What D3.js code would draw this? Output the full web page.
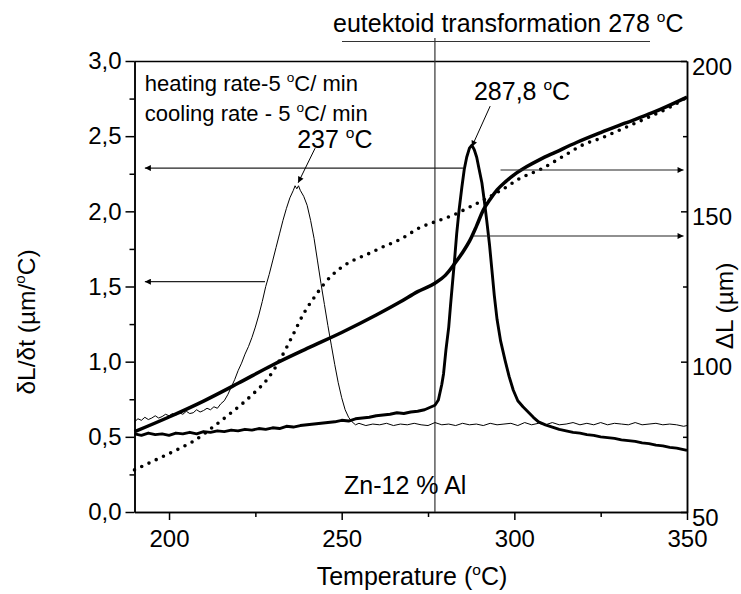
<!DOCTYPE html>
<html>
<head>
<meta charset="utf-8">
<script src="https://cdn.jsdelivr.net/npm/d3@7"></script>
<style>
  body { margin: 0; background: #fff; }
  svg { display: block; font-family: "Liberation Sans", Arial, Helvetica, sans-serif; }
</style>
</head>
<body>
<script>
const WIDTH = 741, HEIGHT = 594;
const MARGIN = {top: 61, right: 54, bottom: 82, left: 134.5};
const TICK_FONT = 24;
const EUTECTOID = 277;

// temperature (°C) -> dL/dt (µm/°C), left axis
const heatRate = [
    [190,0.52],[192,0.51],[194,0.525],[196,0.515],[198,0.52],[200,0.51],[202,0.525],[204,0.52],
    [206,0.53],[208,0.52],[210,0.535],[212,0.53],[214,0.54],[216,0.535],[218,0.545],[220,0.54],
    [222,0.55],[224,0.545],[226,0.555],[228,0.55],[230,0.56],[232,0.555],[234,0.57],[236,0.565],
    [238,0.575],[240,0.58],[242,0.585],[244,0.59],[246,0.595],[248,0.6],[250,0.61],[252,0.605],
    [254,0.62],[256,0.625],[258,0.63],[260,0.64],[262,0.645],[264,0.65],[266,0.66],[268,0.655],
    [270,0.665],[272,0.67],[274,0.68],[276,0.7],[277,0.71],[278,0.745],[279,0.85],[279.5,0.92],
    [280.2,1.08],[281,1.23],[281.5,1.37],[282,1.5],[282.7,1.68],[283.3,1.85],[284,2.01],[284.8,2.16],
    [285.5,2.28],[286.2,2.36],[287,2.42],[287.7,2.44],[288.4,2.41],[289.1,2.36],[289.8,2.28],[290.6,2.19],
    [291.3,2.07],[292,1.94],[292.8,1.78],[293.5,1.61],[294.2,1.44],[295,1.28],[296,1.14],[297.3,1.01],
    [298.5,0.9],[299.7,0.81],[301,0.74],[302.5,0.7],[304,0.665],[305.5,0.63],[307,0.6],[309,0.58],
    [311,0.565],[313,0.55],[315,0.54],[317,0.53],[319,0.525],[321,0.515],[323,0.51],[325,0.5],
    [327,0.495],[329,0.49],[331,0.48],[333,0.475],[335,0.47],[337,0.46],[339,0.455],[341,0.445],
    [343,0.44],[345,0.43],[347,0.425],[349,0.415],[350,0.41]
];
const coolRate = [
    [190,0.6],[191,0.62],[192,0.61],[193,0.63],[194,0.615],[195,0.625],[196,0.64],[197,0.625],
    [198,0.635],[199,0.65],[200,0.64],[201,0.655],[202,0.645],[203,0.66],[204,0.65],[205,0.67],
    [206,0.655],[207,0.66],[208,0.68],[209,0.665],[210,0.675],[211,0.69],[212,0.68],[213,0.7],
    [214,0.69],[215,0.72],[216,0.74],[217,0.78],[218,0.83],[219,0.88],[220,0.94],[221,0.99],
    [222,1.05],[223,1.1],[224,1.16],[225,1.23],[226,1.31],[227,1.4],[228,1.5],[229,1.58],
    [230,1.67],[231,1.76],[232,1.85],[233,1.94],[234,2.02],[235,2.09],[236,2.14],[236.5,2.17],
    [237,2.15],[237.5,2.17],[238,2.14],[239,2.1],[240,2.04],[241,1.94],[242,1.82],[243,1.67],
    [244,1.52],[245,1.38],[246,1.24],[247,1.11],[248,0.98],[249,0.86],[250,0.76],[251,0.68],
    [252,0.63],[253,0.6],[254,0.58],[255,0.59],[257,0.575],[259,0.585],[261,0.58],[263,0.59],
    [265,0.575],[267,0.585],[269,0.58],[271,0.59],[273,0.58],[275,0.575],[277,0.595],[279,0.58],
    [281,0.585],[283,0.575],[285,0.59],[287,0.58],[289,0.585],[291,0.575],[293,0.59],[295,0.58],
    [297,0.585],[299,0.59],[301,0.575],[303,0.595],[305,0.58],[307,0.59],[309,0.58],[311,0.595],
    [313,0.58],[315,0.585],[317,0.595],[319,0.58],[321,0.59],[323,0.58],[325,0.595],[327,0.58],
    [329,0.59],[331,0.585],[333,0.58],[335,0.595],[337,0.58],[339,0.585],[341,0.59],[343,0.58],
    [345,0.585],[347,0.58],[349,0.57],[350,0.575]
];

// temperature (°C) -> dL (µm), right axis
const heatExpansion = [
    [190,76.7],[200,81.6],[210,86.9],[220,92.8],[230,98.9],[240,104.4],[250,109.7],[260,115.5],
    [267,119.9],[272,123.3],[277,126.1],[280,128.7],[282.5,132.3],[285,136.3],[287.2,140.5],[289,145],
    [291,150.4],[293,154],[295,157.1],[297.5,159.9],[300,162.2],[303.5,164.8],[307.5,167.3],[312,169.7],
    [318,172.9],[325,176.2],[332,179.3],[340,182.8],[350,188]
];
const coolExpansion = [
    [190,64],[197,67.8],[203,71.1],[207,73.5],[213,78.5],[218,83],[221.5,86.3],[225,90],
    [228.3,93.9],[232,100.4],[235.5,108],[239,116],[242,121.3],[245,126],[249.5,131],[253,133.5],
    [257,135.5],[262,138.2],[267,140.7],[272.7,144.6],[277,146.5],[282.4,148.8],[287,151.4],[292,154.3],
    [297,157.6],[301.7,161],[307.5,163.9],[314,168.2],[320,172.2],[325,174.3],[332,177.8],[339.3,181.5],
    [345,184.6],[350,188]
];

const xTicks = [200, 250, 300, 350];
const xMinorTicks = [225, 275, 325];
const leftTicks = [0, 0.5, 1, 1.5, 2, 2.5, 3];
const leftMinorTicks = [0.25, 0.75, 1.25, 1.75, 2.25, 2.75];
const rightTicks = [50, 100, 150, 200];
const rightMinorTicks = [75, 125, 175];

// arrows in data units of the left axis: [fromT, fromY, toT, toY]
const axisArrows = [
    [285.2, 2.288, 193, 2.288],
    [296, 2.275, 349, 2.275],
    [227.8, 1.532, 193, 1.532],
    [288.1, 1.836, 349, 1.836]
];
const peakArrows = [
    [242.3, 2.42, 237.4, 2.19],
    [293.0, 2.70, 287.7, 2.43]
];

const comma = d3.formatLocale({decimal: ',', thousands: '.', grouping: [3], currency: ['', '']}).format('.1f');

const svg = d3.select('body').append('svg')
    .attr('width', WIDTH)
    .attr('height', HEIGHT);

const x = d3.scaleLinear().domain([190, 350]).range([MARGIN.left, WIDTH - MARGIN.right]);
const yLeft = d3.scaleLinear().domain([0, 3]).range([HEIGHT - MARGIN.bottom, MARGIN.top]);
const yRight = d3.scaleLinear().domain([50, 200]).range([HEIGHT - MARGIN.bottom, MARGIN.top]);

svg.append('defs').append('marker')
    .attr('id', 'head')
    .attr('viewBox', '0 0 10 10')
    .attr('refX', 10).attr('refY', 5)
    .attr('markerUnits', 'userSpaceOnUse')
    .attr('markerWidth', 9).attr('markerHeight', 6)
    .attr('orient', 'auto')
    .append('path').attr('d', 'M0,0L10,5L0,10z').attr('fill', '#000');

function degree(text, before, after, size){
    text.append('tspan').text(before);
    text.append('tspan').attr('font-size', size * 0.62).attr('dy', -size * 0.42).text('o');
    text.append('tspan').attr('dy', size * 0.42).text(after);
    return text;
}

function styleAxis(g){
    g.attr('font-size', TICK_FONT).attr('font-family', null);
    g.select('.domain').attr('stroke-width', 1.5);
    g.selectAll('.tick line').attr('stroke-width', 1.5);
    g.selectAll('.tick text').attr('fill', '#000');
}

const bottom = HEIGHT - MARGIN.bottom;
const right = WIDTH - MARGIN.right;

// x axis
svg.append('g').attr('transform', `translate(0,${bottom})`)
    .call(d3.axisBottom(x).tickValues(xTicks).tickSize(8).tickSizeOuter(0).tickPadding(10))
    .call(styleAxis);
svg.append('g').attr('transform', `translate(0,${bottom})`)
    .call(d3.axisBottom(x).tickValues(xMinorTicks).tickSize(5).tickSizeOuter(0).tickFormat(''))
    .call(styleAxis);

// left axis
svg.append('g').attr('transform', `translate(${MARGIN.left},0)`)
    .call(d3.axisLeft(yLeft).tickValues(leftTicks).tickSize(9).tickSizeOuter(0).tickPadding(4).tickFormat(comma))
    .call(styleAxis);
svg.append('g').attr('transform', `translate(${MARGIN.left},0)`)
    .call(d3.axisLeft(yLeft).tickValues(leftMinorTicks).tickSize(5).tickSizeOuter(0).tickFormat(''))
    .call(styleAxis);

// right axis, ticks point inward
svg.append('g').attr('transform', `translate(${right},0)`)
    .call(d3.axisRight(yRight).tickValues(rightTicks).tickSize(-6).tickSizeOuter(0).tickPadding(5))
    .call(styleAxis)
    .call(g => g.selectAll('.tick text').attr('x', 5).attr('dy', '0.55em'));
svg.append('g').attr('transform', `translate(${right},0)`)
    .call(d3.axisRight(yRight).tickValues(rightMinorTicks).tickSize(-4).tickSizeOuter(0).tickFormat(''))
    .call(styleAxis);

// top frame
svg.append('line')
    .attr('x1', MARGIN.left).attr('x2', right)
    .attr('y1', MARGIN.top + 0.5).attr('y2', MARGIN.top + 0.5)
    .attr('stroke', '#000').attr('stroke-width', 1.5);

// eutectoid marker line and title
svg.append('line')
    .attr('x1', x(EUTECTOID)).attr('x2', x(EUTECTOID))
    .attr('y1', 38).attr('y2', bottom)
    .attr('stroke', '#333').attr('stroke-width', 1.2);
svg.append('line')
    .attr('x1', 342).attr('x2', 650)
    .attr('y1', 41.5).attr('y2', 41.5)
    .attr('stroke', '#333').attr('stroke-width', 1.2);
degree(svg.append('text').attr('x', 333).attr('y', 32).attr('font-size', 25), 'eutektoid transformation 278 ', 'C', 25);

// curves
const lineLeft = d3.line().x(d => x(d[0])).y(d => yLeft(d[1]));
const curveRight = d3.line().x(d => x(d[0])).y(d => yRight(d[1])).curve(d3.curveMonotoneX);

svg.append('path').datum(coolRate)
    .attr('d', lineLeft).attr('fill', 'none').attr('stroke', '#000').attr('stroke-width', 1);
svg.append('path').datum(heatRate)
    .attr('d', lineLeft).attr('fill', 'none').attr('stroke', '#000').attr('stroke-width', 2.9)
    .attr('stroke-linejoin', 'round');
svg.append('path').datum(heatExpansion)
    .attr('d', curveRight).attr('fill', 'none').attr('stroke', '#000').attr('stroke-width', 3.5);
svg.append('path').datum(coolExpansion)
    .attr('d', curveRight).attr('fill', 'none').attr('stroke', '#000').attr('stroke-width', 3.6)
    .attr('stroke-linecap', 'round').attr('stroke-dasharray', '0 8');

// arrows
svg.selectAll('.axis-arrow').data(axisArrows).join('line')
    .attr('class', 'axis-arrow')
    .attr('x1', d => x(d[0])).attr('y1', d => yLeft(d[1]))
    .attr('x2', d => x(d[2])).attr('y2', d => yLeft(d[3]))
    .attr('stroke', '#222').attr('stroke-width', 1.2)
    .attr('marker-end', 'url(#head)');
svg.selectAll('.peak-arrow').data(peakArrows).join('line')
    .attr('class', 'peak-arrow')
    .attr('x1', d => x(d[0])).attr('y1', d => yLeft(d[1]))
    .attr('x2', d => x(d[2])).attr('y2', d => yLeft(d[3]))
    .attr('stroke', '#000').attr('stroke-width', 1)
    .attr('marker-end', 'url(#head)');

// annotations
degree(svg.append('text').attr('x', x(193)).attr('y', yLeft(2.8)).attr('font-size', 22), 'heating rate-5 ', 'C/ min', 22);
degree(svg.append('text').attr('x', x(193)).attr('y', yLeft(2.6)).attr('font-size', 22), 'cooling rate - 5 ', 'C/ min', 22);
degree(svg.append('text').attr('x', x(237.1)).attr('y', yLeft(2.42)).attr('font-size', 25), '237 ', 'C', 25);
degree(svg.append('text').attr('x', x(288.3)).attr('y', yLeft(2.74)).attr('font-size', 25), '287,8 ', 'C', 25);
svg.append('text').attr('x', x(250.7)).attr('y', yLeft(0.12)).attr('font-size', 25).text('Zn-12 % Al');

// axis titles
degree(svg.append('text').attr('x', 412).attr('y', 585).attr('font-size', 25).attr('text-anchor', 'middle'),
    'Temperature (', 'C)', 25);
degree(svg.append('text').attr('transform', 'translate(35,322) rotate(-90)').attr('font-size', 24.5).attr('text-anchor', 'middle'),
    'δL/δt (µm/', 'C)', 24.5);
svg.append('text').attr('transform', 'translate(733,306) rotate(-90)').attr('font-size', 24.5)
    .attr('text-anchor', 'middle').text('ΔL (µm)');
</script>
</body>
</html>
